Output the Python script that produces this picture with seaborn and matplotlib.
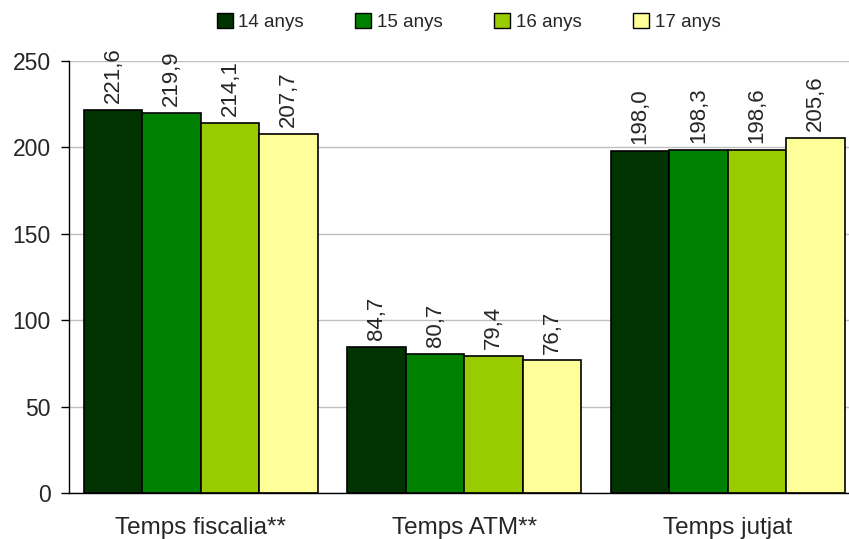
import matplotlib
matplotlib.use("Agg")
import matplotlib.pyplot as plt
import numpy as np
import pandas as pd
import seaborn as sns
from matplotlib.patches import Patch

# Data
categories = ["Temps fiscalia**", "Temps ATM**", "Temps jutjat"]
ages = ["14 anys", "15 anys", "16 anys", "17 anys"]
values_14 = [221.6, 84.7, 198.0]
values_15 = [219.9, 80.7, 198.3]
values_16 = [214.1, 79.4, 198.6]
values_17 = [207.7, 76.7, 205.6]
y_ticks = [0, 50, 100, 150, 200, 250]

colors = ["#003300", "#008000", "#99CC00", "#FFFF99"]

df = pd.DataFrame(
    {
        "categoria": categories * 4,
        "edat": [a for a in ages for _ in categories],
        "valor": values_14 + values_15 + values_16 + values_17,
    }
)

sns.set_style("white")
plt.rcParams["font.family"] = ["Liberation Sans", "DejaVu Sans"]

fig = plt.figure(figsize=(8.49, 5.39), dpi=100)
ax = fig.add_axes([0.0813, 0.0853, 0.9311, 0.8015])

sns.barplot(
    data=df,
    x="categoria",
    y="valor",
    hue="edat",
    order=categories,
    hue_order=ages,
    palette=colors,
    width=0.888,
    edgecolor="black",
    linewidth=1.2,
    saturation=1,
    legend=False,
    ax=ax,
)

# Value labels, rotated, above each bar
for container in ax.containers:
    labels = [f"{v:.1f}".replace(".", ",") for v in container.datavalues]
    ax.bar_label(container, labels=labels, rotation=90, padding=5, fontsize=16)

ax.set_ylim(0, 250)
ax.set_xlim(-0.5, 2.5)
ax.set_yticks(y_ticks)
ax.set_yticklabels([str(t) for t in y_ticks], fontsize=16.5)
ax.yaxis.grid(True, color="#c0c0c0", linewidth=1)
ax.set_axisbelow(True)

ax.set_xticks(range(len(categories)))
ax.set_xticklabels(categories, fontsize=17.5)
ax.tick_params(axis="x", which="major", length=0, pad=17)
ax.set_xticks([-0.5, 0.5, 1.5], minor=True)
ax.tick_params(axis="x", which="minor", length=6, width=1, color="black", direction="out")
ax.tick_params(axis="y", length=6, width=1, color="black", direction="out", left=True, pad=7)

ax.set_xlabel("")
ax.set_ylabel("")
for side in ["top", "right"]:
    ax.spines[side].set_visible(False)
for side in ["left", "bottom"]:
    ax.spines[side].set_color("black")
    ax.spines[side].set_linewidth(1)

handles = [Patch(facecolor=c, edgecolor="black", linewidth=1) for c in colors]
fig.legend(
    handles,
    ages,
    loc="center",
    bbox_to_anchor=(0.552, 0.959),
    ncol=4,
    frameon=False,
    fontsize=13.5,
    handlelength=0.85,
    handleheight=0.85,
    handletextpad=0.3,
    columnspacing=2.75,
)

fig.savefig("out.png", dpi=100)
plt.close(fig)
